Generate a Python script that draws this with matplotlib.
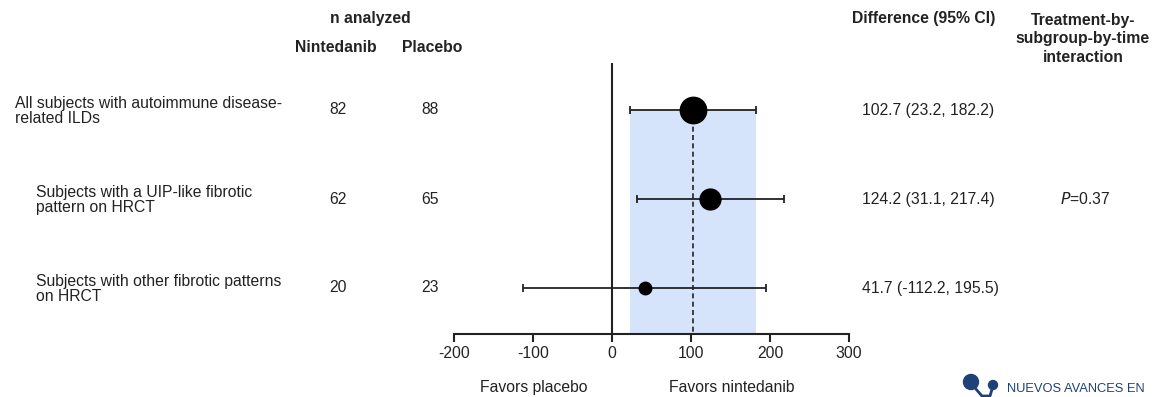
import matplotlib
matplotlib.use("Agg")
import matplotlib.pyplot as plt
from matplotlib.patches import Circle

plt.rcParams['font.family'] = ['Liberation Sans', 'DejaVu Sans']

# ---- data ----
subgroups = ["All subjects with autoimmune disease-\nrelated ILDs",
             "Subjects with a UIP-like fibrotic\npattern on HRCT",
             "Subjects with other fibrotic patterns\non HRCT"]
n_nintedanib = [82, 62, 20]
n_placebo = [88, 65, 23]
diff = [102.7, 124.2, 41.7]
ci_low = [23.2, 31.1, -112.2]
ci_high = [182.2, 217.4, 195.5]
marker_sizes = [19, 15, 9]
label_indent = [15, 36, 36]
interaction_p = "0.37"
xticks = [-200, -100, 0, 100, 200, 300]

W, H = 1156, 397
fig = plt.figure(figsize=(W / 100, H / 100), dpi=100)

def fx(px):
    return px / W

def fy(py):
    return 1 - py / H

# main axes
ax_l, ax_r, ax_t, ax_b = 454, 849, 63, 334
ax = fig.add_axes([fx(ax_l), fy(ax_b), fx(ax_r - ax_l), (ax_b - ax_t) / H])
row_y = [110, 199, 288]
spacing = 89
y_top = -(row_y[0] - ax_t) / spacing
y_bot = 2 + (ax_b - row_y[2]) / spacing
ax.set_xlim(-200, 300)
ax.set_ylim(y_bot, y_top)

rows = list(range(len(diff)))
# overall CI shading
ax.fill_between([ci_low[0], ci_high[0]], [y_bot, y_bot], [rows[0], rows[0]],
                color='#d6e4fb', zorder=0, linewidth=0)
# dashed line at overall estimate
ax.plot([diff[0], diff[0]], [rows[0], y_bot], ls=(0, (3, 2)), color='#222222', lw=1.2, zorder=1)
# vertical line at zero
ax.axvline(0, color='#222222', lw=1.5, zorder=1)

for i in rows:
    ax.errorbar(diff[i], i, xerr=[[diff[i] - ci_low[i]], [ci_high[i] - diff[i]]],
                fmt='o', color='black', ms=marker_sizes[i], ecolor='#222222',
                elinewidth=1.3, capsize=3, capthick=1.3, zorder=3)

for s in ['left', 'right', 'top']:
    ax.spines[s].set_visible(False)
ax.spines['bottom'].set_linewidth(1.5)
ax.spines['bottom'].set_color('#222222')
ax.set_yticks([])
ax.set_xticks(xticks)
ax.set_xticklabels([str(t) for t in xticks])
ax.tick_params(axis='x', direction='out', length=6, width=1.5, color='#222222',
               labelsize=11.3, pad=3, labelcolor='#222222')
ax.patch.set_alpha(0)

fs = 11.3
txtc = '#222222'
# headers
fig.text(fx(370), fy(19), "n analyzed", ha='center', va='center', fontsize=fs, fontweight='bold', color=txtc)
fig.text(fx(336), fy(47), "Nintedanib", ha='center', va='center', fontsize=fs, fontweight='bold', color=txtc)
fig.text(fx(432), fy(47), "Placebo", ha='center', va='center', fontsize=fs, fontweight='bold', color=txtc)
fig.text(fx(924), fy(18), "Difference (95% CI)", ha='center', va='center', fontsize=fs, fontweight='bold', color=txtc)
fig.text(fx(1083), fy(39), "Treatment-by-\nsubgroup-by-time\ninteraction", ha='center', va='center',
         fontsize=fs, fontweight='bold', color=txtc, linespacing=1.3)

for i in rows:
    y = row_y[i]
    fig.text(fx(label_indent[i]), fy(y + 1), subgroups[i], ha='left', va='center', fontsize=fs, color=txtc,
             linespacing=1.08)
    fig.text(fx(338), fy(y), str(n_nintedanib[i]), ha='center', va='center', fontsize=fs, color=txtc)
    fig.text(fx(430), fy(y), str(n_placebo[i]), ha='center', va='center', fontsize=fs, color=txtc)
    fig.text(fx(862), fy(y), f"{diff[i]} ({ci_low[i]}, {ci_high[i]})", ha='left', va='center',
             fontsize=fs, color=txtc)

fig.text(fx(1060), fy(row_y[1]), "$\\it{P}$=" + interaction_p, ha='left', va='center', fontsize=fs, color=txtc)

fig.text(fx(534), fy(395), "Favors placebo", ha='center', va='bottom', fontsize=fs, color=txtc)
fig.text(fx(732), fy(395), "Favors nintedanib", ha='center', va='bottom', fontsize=fs, color=txtc)

# logo
navy = '#1e4278'
logo_ax = fig.add_axes([fx(955), 0, fx(50), 27 / H])
logo_ax.set_xlim(955, 1005)
logo_ax.set_ylim(397, 370)
logo_ax.axis('off')
logo_ax.add_patch(Circle((971, 382), 7.5, color=navy))
logo_ax.add_patch(Circle((993, 385), 4.5, color=navy))
logo_ax.plot([975, 982, 990, 993], [388, 396, 396, 386], color=navy, lw=2)
fig.text(fx(1007), fy(389), "NUEVOS AVANCES EN", ha='left', va='center', fontsize=9.3, color=navy)

fig.savefig("out.png", dpi=100)
